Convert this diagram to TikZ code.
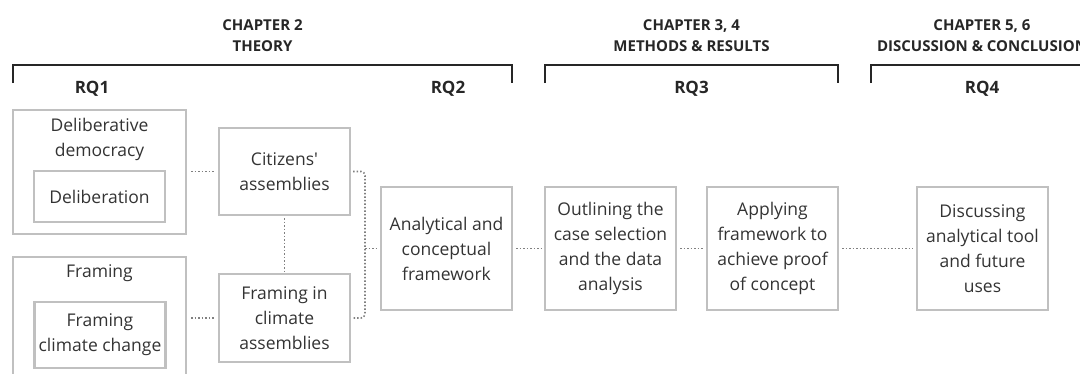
\documentclass[tikz,border=0pt]{standalone}
\usepackage{fontspec}
\setmainfont{Open Sans}
\definecolor{boxgray}{HTML}{C0C0C0}
\definecolor{dotgray}{HTML}{808080}
\definecolor{txtgray}{HTML}{333333}
\definecolor{headdark}{HTML}{262626}
\begin{document}
\begin{tikzpicture}[x=1pt, y=-1pt,
		box/.style={draw=boxgray, line width=2.2pt, align=center, text=txtgray, inner sep=0pt, font=\fontsize{17.5}{25}\selectfont},
		boxtext/.style={align=center, text=txtgray, inner sep=0pt, font=\fontsize{17.5}{25}\selectfont},
		link/.style={draw=dotgray, line width=1.6pt, dash pattern=on 1.5pt off 2pt},
		head/.style={align=center, text=headdark, font=\bfseries\fontsize{15}{21.5}\selectfont},
		rq/.style={text=headdark, font=\bfseries\fontsize{17}{20}\selectfont},
		bracket/.style={draw=headdark, line width=2.4pt}]
	\useasboundingbox (0,0) rectangle (1080,373);
	
	% Capitulos
	\node[head] (ch2) at (262.5,35.5) {CHAPTER 2\\THEORY};
	\node[head] (ch34) at (691.5,35.5) {CHAPTER 3, 4\\METHODS \& RESULTS};
	\node[head] (ch56) at (982,35.5) {CHAPTER 5, 6\\DISCUSSION \& CONCLUSION};
	\draw[bracket] (13,83) -- (13,65) -- (512,65) -- (512,83);
	\draw[bracket] (545,83) -- (545,65) -- (838,65) -- (838,83);
	\draw[bracket] (871,83) -- (871,65) -- (1093,65) -- (1093,83);
	\node[rq] (rq1) at (92,89) {RQ1};
	\node[rq] (rq2) at (448,89) {RQ2};
	\node[rq] (rq3) at (691.5,89) {RQ3};
	\node[rq] (rq4) at (982,89) {RQ4};
	
	% Teoria
	\node[box, minimum width=173pt, minimum height=124pt] (ddem) at (99.5,172) {};
	\node[boxtext, anchor=north] (ddemtxt) at ([yshift=-9pt]ddem.north) {Deliberative\\democracy};
	\node[box, minimum width=131pt, minimum height=51pt] (delib) at (99.5,196.5) {Deliberation};
	\node[box, minimum width=173pt, minimum height=135pt] (fram) at (99.5,324.5) {};
	\node[boxtext, anchor=north] (framtxt) at ([yshift=-9pt]fram.north) {Framing};
	\node[box, minimum width=131pt, minimum height=66pt] (fcc) at (100,335) {Framing\\climate change};
	\node[box, minimum width=131pt, minimum height=87pt] (cit) at (284.5,171.5) {Citizens\textquotesingle\\assemblies};
	\node[box, minimum width=131pt, minimum height=88pt] (fin) at (284.5,318) {Framing in\\climate\\assemblies};
	\node[box, minimum width=131pt, minimum height=123pt] (ana) at (446.5,248.5) {Analytical and\\conceptual\\framework};
	\coordinate (join) at (365,248.5);
	
	% Metodos y discusion
	\node[box, minimum width=131pt, minimum height=123pt] (outl) at (610.5,248.5) {Outlining the\\case selection\\and the data\\analysis};
	\node[box, minimum width=131pt, minimum height=123pt] (appl) at (772.5,248.5) {Applying\\framework to\\achieve proof\\of concept};
	\node[box, minimum width=131pt, minimum height=123pt] (disc) at (982.5,248.5) {Discussing\\analytical tool\\and future\\uses};
	
	% Conexiones
	\draw[link, shorten <=4pt, shorten >=3pt] (ddem.east |- cit.west) -- (cit.west);
	\draw[link, shorten <=4pt, shorten >=3pt] (fram.east |- fin.west) -- (fin.west);
	\draw[link, shorten <=2pt, shorten >=2pt] (cit.south) -- (fin.north);
	\draw[link, rounded corners=4pt, shorten <=2pt, shorten >=2pt] (cit.east) -| (join) |- (fin.east);
	\draw[link, shorten >=3pt] (join) -- (ana.west);
	\draw[link, shorten <=3pt, shorten >=3pt] (ana.east) -- (outl.west);
	\draw[link, shorten <=3pt, shorten >=3pt] (outl.east) -- (appl.west);
	\draw[link, shorten <=3pt, shorten >=3pt] (appl.east) -- (disc.west);
\end{tikzpicture}
\end{document}
